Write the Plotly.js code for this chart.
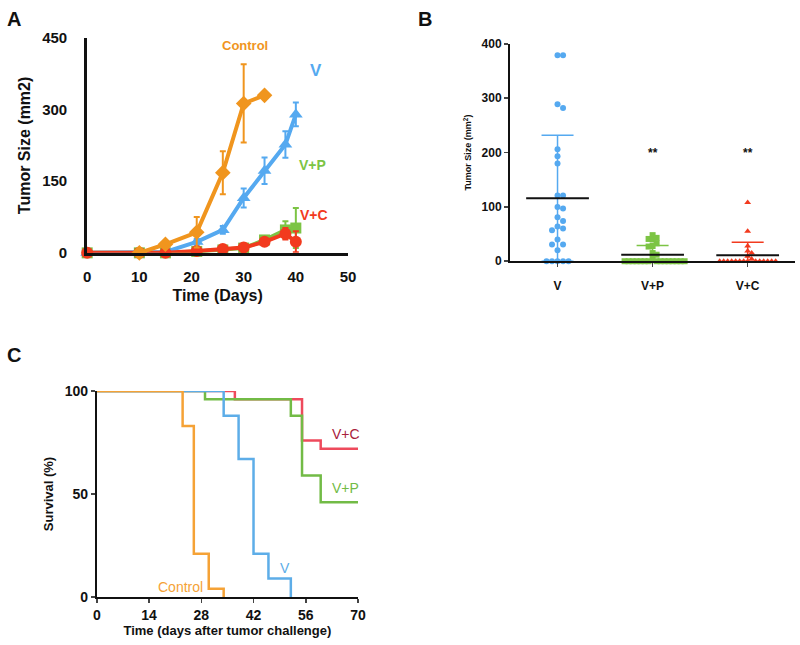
<!DOCTYPE html>
<html>
<head>
<meta charset="utf-8">
<script src="https://cdn.plot.ly/plotly-3.0.1.min.js"></script>
<style>
  body { margin: 0; background: #fff; }
  #chart { width: 800px; height: 645px; }
</style>
</head>
<body>
<div id="chart"></div>
<script>
"use strict";

// Panel A: tumor growth, mean +/- error
var growthDays = [0, 10, 15, 21, 26, 30, 34, 38, 40];
var controlDays = [10, 15, 21, 26, 30, 34];
var controlSize = [0, 18, 43, 168, 313, 330];
var controlErr = [0, 5, 32, 45, 82, 0];
var vSize = [0, 0, 2, 23, 48, 115, 172, 227, 290];
var vErr = [0, 0, 0, 6, 8, 20, 28, 28, 25];
var vpSize = [0, 0, 0, 3, 6, 10, 27, 48, 52];
var vpErr = [0, 0, 0, 0, 0, 0, 5, 18, 42];
var vcSize = [0, 0, 0, 4, 8, 11, 23, 40, 23];
var vcErr = [0, 0, 0, 0, 0, 0, 5, 12, 22];

// Panel B: individual tumor sizes
var groupNames = ['V', 'V+P', 'V+C'];
var vPoints = [379, 379, 289, 282, 206, 193, 180, 121, 121, 100, 97, 81, 74, 64, 60, 57, 40, 31, 31, 20, 0, 0, 0, 0, 0];
var vpPoints = [48, 43, 41, 40, 33, 28, 27, 15, 12, 6, 0, 0, 0, 0, 0, 0, 0, 0, 0, 0, 0, 0, 0, 0, 0];
var vcPoints = [108, 55, 28, 19, 15, 9, 4, 0, 0, 0, 0, 0, 0, 0, 0, 0, 0, 0, 0, 0, 0];
var groupMean = [116, 12, 11];
var groupSd = [116, 17, 24];
var starLabels = ['', '**', '**'];

// Panel C: survival
var ctrlT = [0, 23, 26, 30, 34];
var ctrlS = [100, 83, 21, 4, 0];
var vT = [0, 34, 38, 42, 46, 52];
var vS = [100, 88, 67, 21, 9, 0];
var vpT = [0, 29, 52, 55, 60, 70];
var vpS = [100, 96, 88, 59, 46, 46];
var vcT = [0, 37, 55, 60, 70];
var vcS = [100, 96, 76, 72, 72];

var ORANGE = '#F0951E';
var BLUE = '#55A9F0';
var GREEN = '#7CC444';
var RED = '#F23A1E';
var FONT = 'Liberation Sans, Arial, sans-serif';

function bold(size, color) {
  return {family: FONT, size: size, color: color || '#111', weight: 'bold'};
}

// simple beeswarm: push points sideways until they stop overlapping (in px)
function swarm(values, pxPerX, pxPerY, gap) {
  var placed = [];
  return values.map(function(v) {
    var py = v * pxPerY;
    for (var k = 0; k < 80; k++) {
      var px = Math.ceil(k / 2) * (k % 2 ? 1 : -1) * gap;
      var free = placed.every(function(p) {
        var dx = p[0] - px, dy = p[1] - py;
        return dx * dx + dy * dy >= gap * gap * 0.95;
      });
      if (free) {
        placed.push([px, py]);
        return px / pxPerX;
      }
    }
    return 0;
  });
}

function growthTrace(x, y, err, color, symbol, size) {
  return {
    x: x, y: y, xaxis: 'x', yaxis: 'y', type: 'scatter', mode: 'lines+markers',
    line: {color: color, width: 4},
    marker: {color: color, symbol: symbol, size: size},
    error_y: {type: 'data', array: err, color: color, thickness: 2, width: 3},
    cliponaxis: false
  };
}

function survivalTrace(x, y, color) {
  return {
    x: x, y: y, xaxis: 'x3', yaxis: 'y3', type: 'scatter', mode: 'lines',
    line: {color: color, width: 2.5, shape: 'hv'},
    cliponaxis: false
  };
}

var data = [
  growthTrace(growthDays, vpSize, vpErr, GREEN, 'square', 11),
  growthTrace(growthDays, vSize, vErr, BLUE, 'triangle-up', 12),
  growthTrace(growthDays, vcSize, vcErr, RED, 'circle', 12),
  growthTrace(controlDays, controlSize, controlErr, ORANGE, 'diamond', 12)
];

// Panel B scatter: 95 px per category, 0.543 px per mm2
var pointSets = [vPoints, vpPoints, vcPoints];
var pointColors = [BLUE, GREEN, RED];
var pointSymbols = ['circle', 'square', 'triangle-up'];
var pointGaps = [5.5, 4, 4];
pointSets.forEach(function(vals, i) {
  var offs = swarm(vals, 95, 0.543, pointGaps[i]);
  data.push({
    x: offs.map(function(o) { return i + o; }), y: vals,
    xaxis: 'x2', yaxis: 'y2', type: 'scatter', mode: 'markers',
    marker: {color: pointColors[i], symbol: pointSymbols[i], size: 6},
    cliponaxis: false
  });
  // SD bar
  data.push({
    x: [i], y: [groupMean[i]], xaxis: 'x2', yaxis: 'y2', type: 'scatter', mode: 'markers',
    marker: {size: 1, color: 'rgba(0,0,0,0)'},
    error_y: {type: 'data', symmetric: false, array: [groupSd[i]],
              arrayminus: [Math.min(groupSd[i], groupMean[i])],
              color: pointColors[i], thickness: 1.5, width: 16},
    cliponaxis: false
  });
});
// mean lines
var meanX = [], meanY = [];
groupMean.forEach(function(m, i) {
  meanX.push(i - 0.33, i + 0.33, null);
  meanY.push(m, m, null);
});
data.push({x: meanX, y: meanY, xaxis: 'x2', yaxis: 'y2', type: 'scatter', mode: 'lines',
           line: {color: '#111', width: 2}, cliponaxis: false});

data.push(
  survivalTrace(vcT, vcS, '#EE4A5C'),
  survivalTrace(vpT, vpS, '#72BB46'),
  survivalTrace(vT, vS, '#5DADE8'),
  survivalTrace(ctrlT, ctrlS, '#F5A236')
);

var annotations = [
  {text: 'A', x: 0.006, y: 0.99, xref: 'paper', yref: 'paper', xanchor: 'left', yanchor: 'top', showarrow: false, font: bold(20)},
  {text: 'B', x: 0.52, y: 0.99, xref: 'paper', yref: 'paper', xanchor: 'left', yanchor: 'top', showarrow: false, font: bold(20)},
  {text: 'C', x: 0.006, y: 0.47, xref: 'paper', yref: 'paper', xanchor: 'left', yanchor: 'top', showarrow: false, font: bold(20)},
  {text: 'Control', x: 30.3, y: 435, xref: 'x', yref: 'y', showarrow: false, font: bold(13, ORANGE)},
  {text: 'V', x: 43.8, y: 383, xref: 'x', yref: 'y', showarrow: false, font: bold(17, BLUE)},
  {text: 'V+P', x: 43.2, y: 184, xref: 'x', yref: 'y', showarrow: false, font: bold(14, GREEN)},
  {text: 'V+C', x: 43.4, y: 80, xref: 'x', yref: 'y', showarrow: false, font: bold(14, RED)},
  {text: 'V+C', x: 66.8, y: 79, xref: 'x3', yref: 'y3', showarrow: false, font: {family: FONT, size: 14, color: '#A8203C'}},
  {text: 'V+P', x: 66.6, y: 53, xref: 'x3', yref: 'y3', showarrow: false, font: {family: FONT, size: 14, color: '#72BB46'}},
  {text: 'V', x: 50.4, y: 14, xref: 'x3', yref: 'y3', showarrow: false, font: {family: FONT, size: 14, color: '#5DADE8'}},
  {text: 'Control', x: 22.3, y: 5, xref: 'x3', yref: 'y3', showarrow: false, font: {family: FONT, size: 14, color: '#F5A236'}}
];
starLabels.forEach(function(s, i) {
  if (s) {
    annotations.push({text: s, x: i, y: 200, xref: 'x2', yref: 'y2', showarrow: false, font: bold(12)});
  }
});

var layout = {
  width: 800, height: 645,
  margin: {l: 0, r: 0, t: 0, b: 0},
  paper_bgcolor: '#fff', plot_bgcolor: '#fff',
  showlegend: false,
  font: {family: FONT, color: '#111'},
  xaxis: {
    domain: [0.109, 0.435], anchor: 'y', range: [0, 50],
    tickvals: [0, 10, 20, 30, 40, 50], ticks: '', ticklabelstandoff: 8,
    showline: true, linewidth: 3, linecolor: '#111', showgrid: false, zeroline: false,
    tickfont: bold(15),
    title: {text: 'Time (Days)', font: bold(16), standoff: 6}
  },
  yaxis: {
    domain: [0.608, 0.941], anchor: 'x', range: [0, 450],
    tickvals: [0, 150, 300, 450], ticks: '', ticklabelstandoff: 14,
    showline: true, linewidth: 3, linecolor: '#111', showgrid: false, zeroline: false,
    tickfont: bold(15),
    title: {text: 'Tumor Size (mm2)', font: bold(16), standoff: 8}
  },
  xaxis2: {
    domain: [0.6375, 0.994], anchor: 'y2', range: [-0.5, 2.5],
    tickvals: [0, 1, 2], ticktext: groupNames, ticks: 'outside', ticklen: 4, tickwidth: 1.5,
    ticklabelstandoff: 8,
    showline: true, linewidth: 2, linecolor: '#111', showgrid: false, zeroline: false,
    tickfont: bold(12)
  },
  yaxis2: {
    domain: [0.595, 0.932], anchor: 'x2', range: [0, 400], dtick: 100,
    ticks: 'outside', ticklen: 4, tickwidth: 1.5,
    showline: true, linewidth: 2, linecolor: '#111', showgrid: false, zeroline: false,
    tickfont: bold(12),
    title: {text: 'Tumor Size (mm<sup>2</sup>)', font: bold(9), standoff: 8}
  },
  xaxis3: {
    domain: [0.121, 0.4475], anchor: 'y3', range: [0, 70],
    tickvals: [0, 14, 28, 42, 56, 70], ticks: 'outside', ticklen: 4, tickwidth: 1.5,
    showline: true, linewidth: 2, linecolor: '#111', showgrid: false, zeroline: false,
    tickfont: bold(14),
    title: {text: 'Time (days after tumor challenge)', font: bold(13), standoff: 4}
  },
  yaxis3: {
    domain: [0.0744, 0.3938], anchor: 'x3', range: [0, 100],
    tickvals: [0, 50, 100], ticks: 'outside', ticklen: 4, tickwidth: 1.5,
    showline: true, linewidth: 2, linecolor: '#111', showgrid: false, zeroline: false,
    tickfont: bold(14),
    title: {text: 'Survival (%)', font: bold(13), standoff: 8}
  },
  annotations: annotations
};

Plotly.newPlot('chart', data, layout, {staticPlot: true});
</script>
</body>
</html>
